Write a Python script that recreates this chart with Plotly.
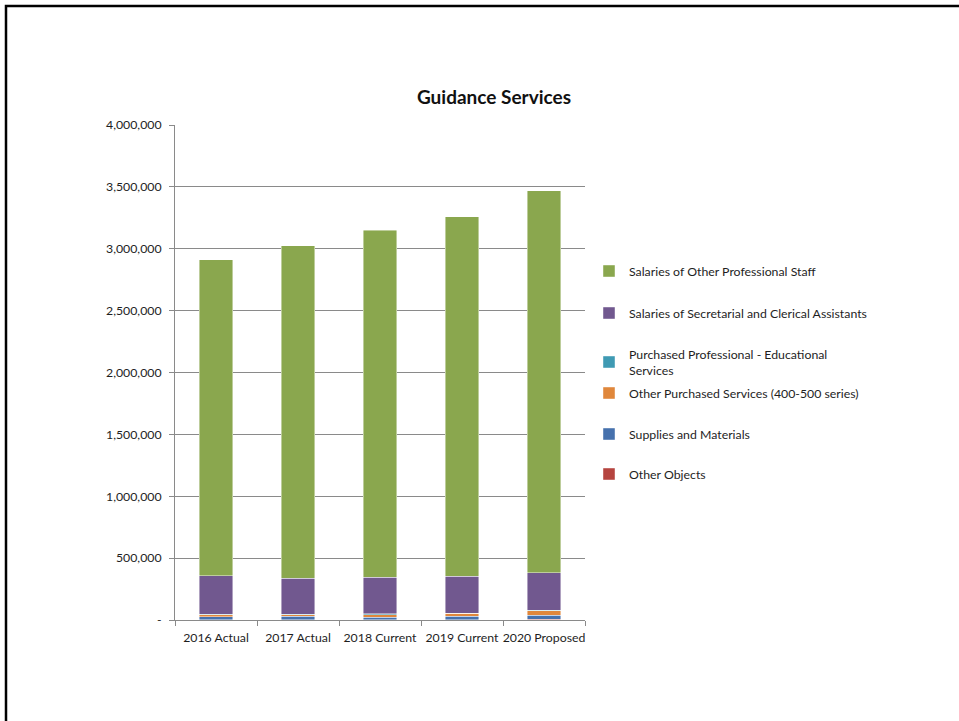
import plotly.graph_objects as go

# Budget categories (x axis)
years = ["2016 Actual", "2017 Actual", "2018 Current", "2019 Current", "2020 Proposed"]

# Expenditure by object, stacked bottom to top
other_objects = [2000, 1500, 1500, 2000, 8000]
supplies_materials = [25000, 30000, 22000, 30000, 32000]
other_purchased = [15000, 12000, 18000, 22000, 35000]
purchased_professional = [4000, 3000, 8000, 2000, 3000]
salaries_secretarial = [312000, 290000, 298000, 296000, 304000]
salaries_other_prof = [2554000, 2688500, 2802500, 2906000, 3088000]

y_tick_values = [0, 500000, 1000000, 1500000, 2000000, 2500000, 3000000, 3500000, 4000000]
y_tick_labels = ["-", "500,000", "1,000,000", "1,500,000", "2,000,000",
                 "2,500,000", "3,000,000", "3,500,000", "4,000,000"]

series = [
    ("Other Objects", other_objects, "#b5443f"),
    ("Supplies and Materials", supplies_materials, "#4671ad"),
    ("Other Purchased Services (400-500 series)", other_purchased, "#e0873b"),
    ("Purchased Professional - Educational<br>Services", purchased_professional, "#3f9ab3"),
    ("Salaries of Secretarial and Clerical Assistants", salaries_secretarial, "#71588f"),
    ("Salaries of Other Professional Staff", salaries_other_prof, "#8aa74e"),
]

W, H = 959, 721
L, R, T, B = 175, 585, 125, 620


def px(x):
    return (x - L) / (R - L)


def py(y):
    return (B - y) / (B - T)


FONT = "Lato, Carlito, Calibri, sans-serif"
FS = 12.3
TEXT = "#1e1e1e"
GRID = "#8a8a8a"

# legend entry centres (page pixels), top entry first
legend_rows = {
    "Salaries of Other Professional Staff": 271,
    "Salaries of Secretarial and Clerical Assistants": 313,
    "Purchased Professional - Educational<br>Services": 362,
    "Other Purchased Services (400-500 series)": 393,
    "Supplies and Materials": 434,
    "Other Objects": 474,
}

fig = go.Figure()
legend_layout = {}
for i, (name, vals, color) in enumerate(series):
    key = "legend" if i == 0 else f"legend{i + 1}"
    fig.add_trace(go.Bar(
        x=years, y=vals, name=name,
        marker=dict(color=color, line=dict(color="rgba(255,255,255,0.55)", width=0.8)),
        legend=key,
    ))
    legend_layout[key] = dict(
        x=px(589), y=py(legend_rows[name]),
        xanchor="left", yanchor="middle",
        bgcolor="rgba(0,0,0,0)", borderwidth=0,
        font=dict(family=FONT, size=FS, color=TEXT),
    )

fig.update_layout(
    width=W, height=H,
    margin=dict(l=L, r=W - R, t=T, b=H - B),
    paper_bgcolor="white", plot_bgcolor="white",
    barmode="stack", bargap=0.593,
    showlegend=True,
    title=dict(
        text="<b>Guidance Services</b>",
        x=px(494), xref="paper", xanchor="center",
        y=1 - 97 / H, yref="container", yanchor="middle",
        font=dict(family=FONT, size=19, color="#111111"),
    ),
    font=dict(family=FONT, size=FS, color=TEXT),
    **legend_layout,
)

fig.update_xaxes(
    range=[-0.5, 4.5],
    showline=True, linecolor=GRID, linewidth=1,
    ticks="outside", tickson="boundaries", ticklen=5, tickcolor=GRID,
    showgrid=False, tickangle=0,
    ticklabelstandoff=6,
    tickfont=dict(family=FONT, size=FS, color=TEXT),
)
fig.update_yaxes(
    range=[0, 4000000],
    tickvals=y_tick_values, ticktext=y_tick_labels,
    showline=True, linecolor=GRID, linewidth=1,
    ticks="outside", ticklen=5, tickcolor=GRID,
    showgrid=True, gridcolor=GRID, gridwidth=1,
    zeroline=False,
    ticklabelstandoff=5,
    tickfont=dict(family=FONT, size=FS, color=TEXT),
)

# slide frame around the chart
fig.add_shape(
    type="rect", xref="paper", yref="paper",
    x0=px(6), x1=px(970), y0=py(6), y1=py(740),
    line=dict(color="black", width=2.5), fillcolor="rgba(0,0,0,0)",
    layer="above",
)

fig.write_html("out.html")
